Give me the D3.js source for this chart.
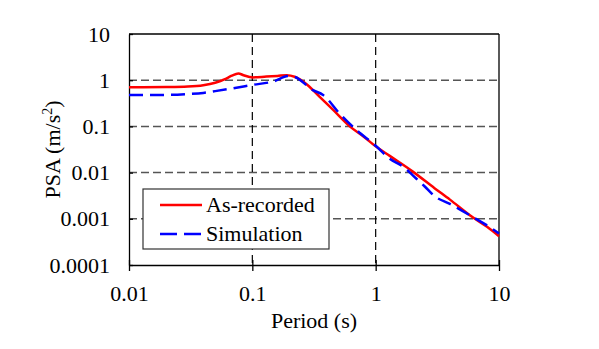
<!DOCTYPE html>
<html>
<head>
<meta charset="utf-8">
<script src="https://cdn.jsdelivr.net/npm/d3@7"></script>
<style>
body { margin: 0; background: #fff; }
text { font-family: "Liberation Serif", "Times New Roman", serif; fill: #000; }
</style>
</head>
<body>
<div id="chart"></div>
<script>
// period (s) and PSA (m/s2)
var recPeriod = [0.01, 0.02, 0.03, 0.04, 0.05, 0.06, 0.068, 0.077, 0.085, 0.095, 0.1, 0.13, 0.16, 0.19, 0.22, 0.28, 0.35, 0.45, 0.62, 0.8, 1, 1.3, 2, 3, 4, 6, 8, 10];
var recPSA = [0.70, 0.71, 0.73, 0.78, 0.88, 1.05, 1.25, 1.40, 1.28, 1.17, 1.15, 1.2, 1.24, 1.28, 1.19, 0.79, 0.44, 0.23, 0.099, 0.06, 0.037, 0.023, 0.0105, 0.0046, 0.0026, 0.00112, 0.00067, 0.00042];

var simPeriod = [0.01, 0.02, 0.03, 0.04, 0.05, 0.07, 0.1, 0.15, 0.195, 0.22, 0.31, 0.375, 0.51, 0.7, 1, 1.3, 1.7, 2, 2.5, 3, 4, 5, 6.5, 8, 10];
var simPSA = [0.48, 0.48, 0.50, 0.53, 0.58, 0.67, 0.79, 0.95, 1.23, 1.18, 0.61, 0.48, 0.19, 0.083, 0.038, 0.02, 0.013, 0.0087, 0.005, 0.0031, 0.0021, 0.0015, 0.001, 0.00072, 0.00048];

var xTicks = [0.01, 0.1, 1, 10];
var xTickLabels = ["0.01", "0.1", "1", "10"];
var yTicks = [0.0001, 0.001, 0.01, 0.1, 1, 10];
var yTickLabels = ["0.0001", "0.001", "0.01", "0.1", "1", "10"];
var seriesNames = ["As-recorded", "Simulation"];

var W = 599, H = 349;
var margin = { top: 34, left: 129, right: 100, bottom: 84 },
	width = W - margin.left - margin.right,
	height = H - margin.top - margin.bottom;

var svg = d3.select("#chart").append("svg")
	.attr("width", W)
	.attr("height", H);

var g = svg.append("g")
	.attr("transform", "translate(" + margin.left + "," + margin.top + ")");

var x = d3.scaleLog().domain([0.01, 10]).range([0, width]);
var y = d3.scaleLog().domain([0.0001, 10]).range([height, 0]);

// gridlines
g.selectAll(".hgrid")
	.data(yTicks.slice(1, -1))
	.enter().append("line")
	.attr("x1", 0).attr("x2", width)
	.attr("y1", function(d) { return y(d); })
	.attr("y2", function(d) { return y(d); })
	.attr("stroke", "#555")
	.attr("stroke-width", 1.5)
	.attr("stroke-dasharray", "8,4");

g.selectAll(".vgrid")
	.data(xTicks.slice(1, -1))
	.enter().append("line")
	.attr("x1", function(d) { return x(d); })
	.attr("x2", function(d) { return x(d); })
	.attr("y1", 0).attr("y2", height)
	.attr("stroke", "#000")
	.attr("stroke-width", 1.2)
	.attr("stroke-dasharray", "8,5");

// frame top and right
g.append("line").attr("x1", 0).attr("x2", width).attr("y1", 0).attr("y2", 0)
	.attr("stroke", "#000").attr("stroke-width", 1.3);
g.append("line").attr("x1", width).attr("x2", width).attr("y1", 0).attr("y2", height)
	.attr("stroke", "#000").attr("stroke-width", 1.3);

// axes
var xAxis = d3.axisBottom(x).tickValues(xTicks)
	.tickFormat(function(d, i) { return xTickLabels[i]; })
	.tickSizeInner(6).tickSizeOuter(0).tickPadding(14);
var yAxis = d3.axisLeft(y).tickValues(yTicks)
	.tickFormat(function(d, i) { return yTickLabels[i]; })
	.tickSizeInner(6).tickSizeOuter(0).tickPadding(13);

var gx = g.append("g").attr("transform", "translate(0," + height + ")").call(xAxis);
var gy = g.append("g").call(yAxis);
[gx, gy].forEach(function(a) {
	a.select(".domain").attr("stroke", "#000").attr("stroke-width", 1.3);
	a.selectAll(".tick line").attr("stroke", "#000").attr("stroke-width", 1.3);
	a.selectAll(".tick text")
		.style("font-family", "'Liberation Serif', serif")
		.style("font-size", "22px");
});
gx.selectAll(".tick line").attr("y1", -5);
gy.selectAll(".tick line").attr("x2", 4);

// lines
var line = d3.line()
	.x(function(d) { return x(d[0]); })
	.y(function(d) { return y(d[1]); })
	.curve(d3.curveMonotoneX);

var recData = d3.zip(recPeriod, recPSA);
var simData = d3.zip(simPeriod, simPSA);

g.append("path")
	.datum(recData)
	.attr("d", line)
	.attr("fill", "none")
	.attr("stroke", "#ff0000")
	.attr("stroke-width", 2.5);

g.append("path")
	.datum(simData)
	.attr("d", line)
	.attr("fill", "none")
	.attr("stroke", "#0000ff")
	.attr("stroke-width", 2.5)
	.attr("stroke-dasharray", "14,7");

// axis titles
svg.append("text")
	.attr("x", margin.left + width / 2)
	.attr("y", 328)
	.attr("text-anchor", "middle")
	.style("font-size", "22px")
	.text("Period (s)");

var yt = svg.append("text")
	.attr("transform", "translate(60," + (margin.top + height / 2) + ") rotate(-90)")
	.attr("text-anchor", "middle")
	.style("font-size", "22px");
yt.append("tspan").text("PSA (m/s");
yt.append("tspan").attr("dy", -8).style("font-size", "14px").text("2");
yt.append("tspan").attr("dy", 8).text(")");

// legend
var lg = svg.append("g").attr("transform", "translate(143,189)");
lg.append("rect")
	.attr("width", 186).attr("height", 60)
	.attr("fill", "#fff")
	.attr("stroke", "#333").attr("stroke-width", 1.2);

var legColors = ["#ff0000", "#0000ff"];
var legDash = [null, "17,7"];
seriesNames.forEach(function(name, i) {
	var yy = 16 + i * 29;
	lg.append("line")
		.attr("x1", 17).attr("x2", 59)
		.attr("y1", yy).attr("y2", yy)
		.attr("stroke", legColors[i])
		.attr("stroke-width", 2.5)
		.attr("stroke-dasharray", legDash[i]);
	lg.append("text")
		.attr("x", 63).attr("y", yy + 7)
		.style("font-size", "22px")
		.text(name);
});
</script>
</body>
</html>
